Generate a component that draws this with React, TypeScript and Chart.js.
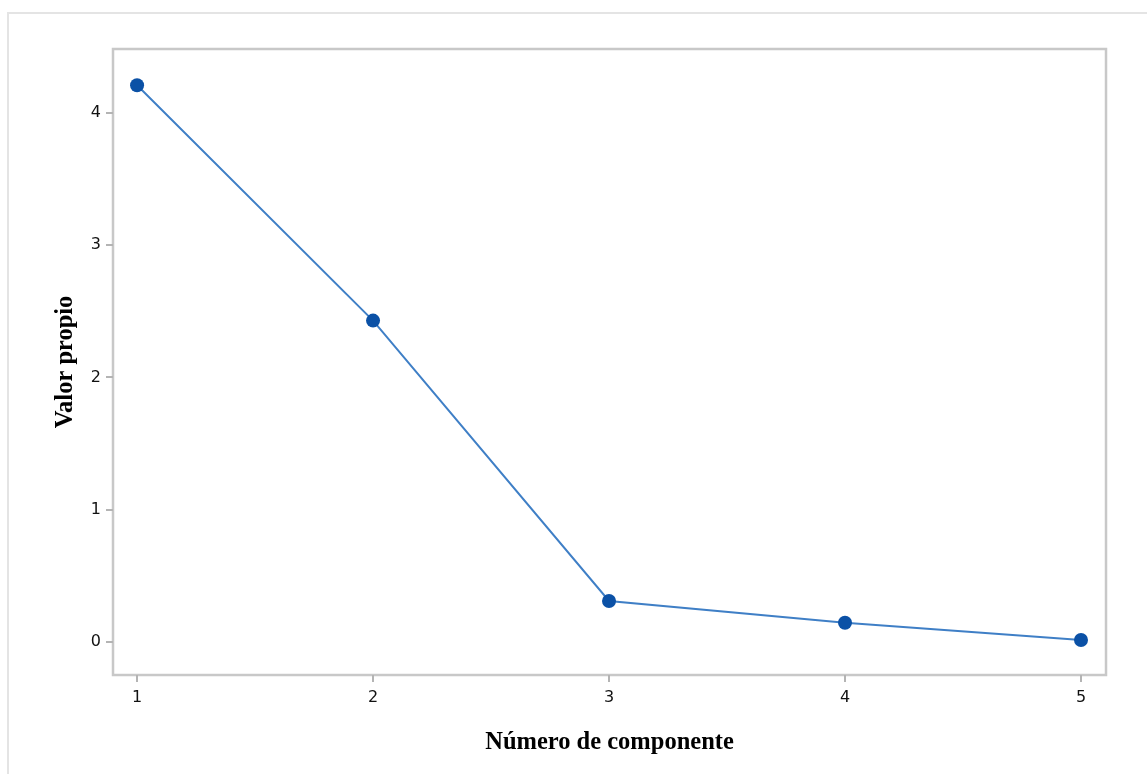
import React, { useEffect, useRef } from "react";
import { Chart, registerables } from "chart.js";

Chart.register(...registerables);

const components = [1, 2, 3, 4, 5];
const eigenvalues = [4.21, 2.43, 0.31, 0.145, 0.015];
const xTicks = [1, 2, 3, 4, 5];
const yTicks = [0, 1, 2, 3, 4];
const xTitle = "Número de componente";
const yTitle = "Valor propio";

const framePlugin = {
  id: "frame",
  beforeDraw(chart: any) {
    const { ctx, chartArea } = chart;
    ctx.save();
    ctx.strokeStyle = "#c8c8c8";
    ctx.lineWidth = 2.5;
    ctx.strokeRect(chartArea.left, chartArea.top, chartArea.right - chartArea.left, chartArea.bottom - chartArea.top);
    ctx.restore();
  },
  afterDraw(chart: any) {
    const { ctx, chartArea } = chart;
    ctx.save();
    ctx.fillStyle = "#000";
    ctx.font = "bold 24.5px 'Liberation Serif'";
    ctx.textAlign = "center";
    ctx.textBaseline = "alphabetic";
    ctx.fillText(xTitle, (chartArea.left + chartArea.right) / 2, 749);
    ctx.translate(72, (chartArea.top + chartArea.bottom) / 2);
    ctx.rotate(-Math.PI / 2);
    ctx.fillText(yTitle, 0, 0);
    ctx.restore();
  },
};

export default function App() {
  const ref = useRef<HTMLCanvasElement>(null);
  useEffect(() => {
    const chart = new Chart(ref.current!, {
      type: "line",
      data: {
        datasets: [
          {
            data: components.map((c, i) => ({ x: c, y: eigenvalues[i] })),
            borderColor: "#3f7fc6",
            borderWidth: 2,
            pointBackgroundColor: "#0b51a6",
            pointBorderColor: "#0b51a6",
            pointRadius: 7,
            pointBorderWidth: 0,
            tension: 0,
          },
        ],
      },
      options: {
        animation: false,
        responsive: false,
        events: [],
        layout: { padding: { left: 0, top: 49, right: 41, bottom: 0 } },
        plugins: { legend: { display: false }, tooltip: { enabled: false } },
        scales: {
          x: {
            type: "linear",
            min: 0.898,
            max: 5.106,
            afterBuildTicks: (s: any) => {
              s.ticks = xTicks.map((v) => ({ value: v }));
            },
            afterFit: (s: any) => {
              s.height = 99;
            },
            border: { display: false },
            grid: { drawOnChartArea: false, drawTicks: true, tickLength: 7, color: "#b4b4b4", lineWidth: 2 },
            ticks: { color: "#111", font: { family: "'DejaVu Sans'", size: 16 }, padding: 6, maxRotation: 0 },
          },
          y: {
            type: "linear",
            min: -0.25,
            max: 4.484,
            afterBuildTicks: (s: any) => {
              s.ticks = yTicks.map((v) => ({ value: v }));
            },
            afterFit: (s: any) => {
              s.width = 113;
            },
            border: { display: false },
            grid: { drawOnChartArea: false, drawTicks: true, tickLength: 7, color: "#b4b4b4", lineWidth: 2 },
            ticks: { color: "#111", font: { family: "'DejaVu Sans'", size: 16 }, padding: 5 },
          },
        },
      },
      plugins: [framePlugin],
    } as any);
    return () => chart.destroy();
  }, []);
  return (
    <div style={{ position: "absolute", left: 0, top: 0, width: 1147, height: 774, background: "#fff" }}>
      <div
        style={{
          position: "absolute",
          left: 7,
          top: 12,
          width: 1147,
          height: 774,
          borderLeft: "2px solid #e4e4e4",
          borderTop: "2px solid #e4e4e4",
        }}
      />
      <canvas ref={ref} width={1147} height={774} style={{ position: "absolute", left: 0, top: 0 }} />
    </div>
  );
}
